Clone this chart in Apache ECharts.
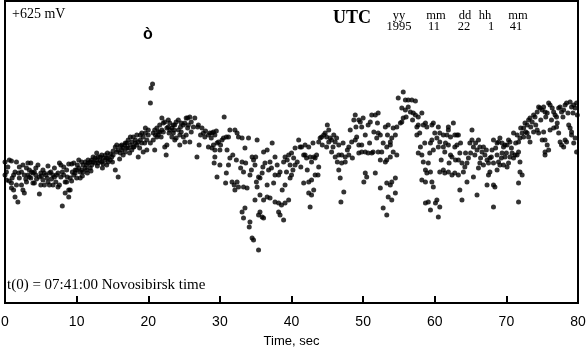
<!DOCTYPE html>
<html><head><meta charset="utf-8">
<script src="https://cdn.jsdelivr.net/npm/echarts@6/dist/echarts.min.js"></script>
<style>html,body{margin:0;padding:0;background:#fff}#c{width:588px;height:350px}</style>
</head><body><div id="c"></div>
<script>
// Time (s) and relative signal level (arbitrary units, 0 = bottom of frame)
const seg1 = [[0,141],[0,128],[0.2,131],[0.2,123],[0.6,122],[0.6,143],[0.9,142],[0.9,120],[0.9,115],[1.2,113],[1.2,128],[1.4,106],[1.4,131],[1.6,141],[1.6,118],[1.8,101],[2.0,125],[2.0,136],[2.3,131],[2.3,118],[2.5,138],[2.5,113],[2.7,110],[2.7,128],[3.0,121],[3.0,135],[3.2,128],[3.2,140],[3.4,126],[3.4,133],[3.6,140],[3.6,125],[3.9,130],[3.9,120],[4.1,120],[4.1,131],[4.3,128],[4.3,135],[4.6,138],[4.8,109],[4.8,126],[5.0,130],[5.0,118],[5.3,133],[5.3,123],[5.5,118],[5.5,130],[5.7,128],[6.0,137],[6.0,121],[6.2,118],[6.2,130],[6.4,131],[6.7,128],[6.7,118],[6.9,135],[6.9,126],[7.1,121],[7.4,130],[7.4,116],[7.6,118],[7.6,140],[7.8,138],[7.8,126],[8.0,97],[8.2,128],[8.2,136],[8.4,110],[8.4,121],[8.6,121],[8.6,133],[8.9,139],[8.9,106],[8.9,113],[9.1,113],[9.1,125],[9.3,122],[9.3,139],[9.6,140],[9.6,128],[9.8,130],[9.8,133],[10.0,133],[10.0,125],[10.3,135],[10.3,143],[10.5,125],[10.5,131],[10.7,141],[10.7,133],[10.9,131],[10.9,138],[11.2,135],[11.2,141],[11.4,138],[11.4,133],[11.6,140],[11.6,143],[11.9,135],[11.9,141],[12.1,143],[12.1,138],[12.3,141],[12.3,146],[12.6,145],[12.6,140],[12.8,150],[12.8,143],[13.0,140],[13.0,146],[13.3,146],[13.3,142],[13.5,141],[13.5,148],[13.7,145],[13.7,139],[14.0,148],[14.0,143],[14.2,138],[14.2,145],[14.4,145],[14.4,141],[14.7,143],[14.7,149],[14.9,146],[15.1,148],[15.1,152],[15.4,133],[15.4,156],[15.6,158],[15.6,151],[15.8,126],[15.8,153],[16.1,150],[16.1,157],[16.3,158],[16.3,153],[16.5,155],[16.5,148],[16.8,151],[16.8,160],[17.0,160],[17.0,155],[17.2,155],[17.2,163],[17.5,158],[17.5,166],[17.7,161],[17.7,153],[17.9,156],[17.9,166],[18.2,163],[18.2,160],[18.4,158],[18.4,168],[18.6,146],[18.6,161],[18.9,168],[18.9,163],[19.1,160],[19.1,170],[19.3,166],[19.3,151],[19.6,170],[19.6,175],[19.8,163],[19.8,153],[20.0,173],[20.0,168],[20.3,200],[20.3,160],[20.4,215],[20.6,219],[20.7,170],[20.7,163],[20.9,153],[20.9,173],[21.2,175],[21.2,166],[21.4,168],[21.4,171],[21.6,178],[21.6,171],[21.9,185],[21.9,173],[22.1,171],[22.1,180],[22.3,181],[22.3,156],[22.5,148],[22.6,158],[22.6,175],[22.8,176],[22.8,183],[23.0,180],[23.0,173],[23.3,175],[23.3,166],[23.5,170],[23.5,178],[23.7,178],[23.7,163],[23.9,165],[23.9,181],[24.2,183],[24.2,173],[24.4,158],[24.4,168],[24.6,171],[24.6,180],[24.9,178],[24.9,166],[25.1,180],[25.1,161],[25.3,168],[25.3,185],[25.5,185],[25.5,175],[25.8,161],[25.8,186],[26.0,181],[26.0,171],
  [0.4,136],[1.0,125],[1.9,130],[2.9,124],[3.7,131],[4.4,124],[5.1,127],[5.9,125],[6.5,124],[7.2,128],[8.0,131],[8.7,126],[9.4,131],[10.1,138],[10.8,127],[11.5,130],[12.0,132],[12.9,137],[13.6,135],[14.3,150],[15.0,141],[16.0,144],[16.7,158],[17.4,150],[18.0,156],[18.8,155],[19.5,160],[21.0,168],[21.8,166],[22.9,170],[23.6,173],[24.5,176],[25.6,178],[26.3,176]];
const seg2 = [[26.5,185],[27.0,178],[27.5,175],[27.7,170],[27.9,166],[28.4,168],[28.6,170],[28.9,170],[29.1,171],[29.3,168],[27.1,158],[28.4,156],[28.9,155],[29.1,158],[29.3,153],[26.8,146],[29.6,160],[30.0,153],[29.8,161],[30.3,163],[30.5,165],[30.9,166],[31.2,166],[30.6,186],[31.4,173],[32.1,173],[32.4,170],[32.6,166],[33.1,165],[34.0,165],[35.2,163],[33.5,155],[29.3,146],[29.2,140],[30.0,138],[31.2,138],[31.4,145],[30.9,130],[29.6,126],[30.8,120],[31.7,121],[32.0,118],[32.4,121],[32.6,116],[32.1,113],[33.3,116],[33.8,115],[33.1,141],[33.3,131],[34.2,128],[34.7,143],[34.5,146],[34.9,138],[35.1,121],[35.4,126],[36.1,151],[36.6,153],[37.3,160],[37.7,146],[36.3,140],[37.0,141],[35.9,130],[35.6,125],[35.2,116],[36.6,118],[37.2,135],[37.7,128],[38.4,131],[38.2,128],[38.9,141],[39.1,146],[39.6,148],[40.0,150],[40.3,145],[40.5,138],[39.8,138],[39.3,131],[40.0,128],[39.1,118],[39.8,125],[40.5,155],[41.0,163],[41.2,156],[41.4,156],[41.7,148],[41.9,148],[42.1,145],[42.4,156],[42.6,146],[42.8,141],[43.1,146],[43.3,145],[43.5,148],[43.8,136],[41.7,120],[42.4,121],[42.8,123],[43.1,113],[43.3,128],[42.8,108],[42.6,96],[42.4,110],[34.9,103],[35.6,108],[36.1,103],[36.6,106],[37.0,105],[37.7,101],[38.2,100],[38.6,98],[39.1,100],[39.6,103],[35.4,88],[35.9,86],[36.1,85],[35.6,91],[38.2,91],[38.4,88],[38.9,83],[33.1,91],[33.5,95],[33.3,85],[34.2,81],[34.1,76],[34.5,65],[34.7,63],[35.4,53],[43.8,161],[44.0,165],[44.2,166],[44.5,168],[44.7,170],[44.9,166],[45.2,173],[45.4,165],[45.6,163],[45.2,161],[45.9,168],[46.1,161],[46.3,165],[46.6,158],[44.9,156],[45.6,151],[46.1,146],[46.6,148],[47.0,148],[47.5,146],[48.0,148],[47.0,140],[47.5,141],[46.6,133],[46.8,125],[47.3,111],[46.9,101],[48.0,156],[48.4,161],[48.9,163],[49.4,158],[49.8,158],[48.2,173],[48.7,183],[48.9,188],[49.4,183],[49.6,181],[49.8,176],[49.1,166],[50.3,168],[50.7,178],[51.0,181],[51.2,188],[51.7,188],[52.1,190],[51.9,165],[52.1,170],[52.4,168],[53.1,176],[53.5,178],[52.6,151],[53.3,156],[53.8,158],[49.4,150],[49.8,151],[50.3,151],[50.7,150],[51.2,150],[51.4,151],[52.1,151],[52.4,143],[53.1,141],[53.3,143],[50.3,130],[50.1,121],[50.5,126],[51.7,130],[52.4,115],[53.3,120],[53.5,106],[52.8,95],[53.3,88],
  [26.9,176],[27.3,168],[28.0,172],[28.8,165],[29.5,172],[30.1,158],[31.0,153],[31.8,148],[32.3,143],[32.9,135],[33.6,140],[34.4,133],[35.0,146],[36.0,136],[36.8,133],[37.5,120],[38.0,138],[38.7,113],[39.4,143],[40.2,133],[40.8,141],[41.3,136],[41.9,158],[42.2,133],[43.0,160],[43.7,128],[44.3,158],[45.0,178],[45.8,156],[46.4,141],[47.2,160],[47.8,153],[48.5,145],[49.0,176],[50.0,185],[50.9,160],[51.5,171],[52.0,180],[52.8,160],[53.4,168]];
const seg3 = [[54.9,205],[55.6,211],[55.9,203],[56.3,203],[56.8,203],[57.3,202],[55.4,195],[55.9,193],[56.3,196],[56.6,191],[57.0,190],[57.3,188],[57.7,186],[58.2,190],[55.6,185],[55.4,181],[55.2,180],[54.7,176],[54.2,175],[54.5,168],[54.0,165],[53.8,161],[54.2,151],[54.7,148],[53.8,146],[54.5,125],[54.0,121],[53.8,118],[54.5,110],[54.0,103],[57.5,176],[57.7,178],[58.4,178],[58.7,180],[58.9,176],[59.6,178],[59.8,180],[60.5,176],[60.7,170],[61.2,168],[61.7,168],[61.9,176],[62.2,166],[62.6,180],[62.8,168],[63.1,168],[63.3,168],[61.9,173],[57.5,168],[57.7,150],[58.2,148],[58.0,156],[58.4,141],[58.7,133],[58.9,130],[59.4,131],[59.1,140],[59.8,153],[59.4,160],[59.6,163],[60.3,165],[60.5,156],[60.7,161],[61.2,156],[61.4,151],[61.9,158],[62.2,148],[62.4,146],[62.8,156],[63.1,158],[63.5,150],[63.3,143],[63.8,140],[64.2,136],[64.0,131],[64.5,140],[64.7,145],[64.9,160],[65.2,163],[65.2,173],[65.4,156],[65.6,148],[65.9,153],[66.1,163],[66.3,156],[66.6,151],[66.8,156],[67.0,148],[67.3,143],[67.5,140],[67.7,145],[68.0,153],[68.2,163],[68.7,160],[68.9,161],[69.1,165],[69.4,160],[69.6,156],[69.8,158],[70.1,158],[70.3,163],[70.5,161],[71.0,170],[71.5,168],[71.7,161],[71.9,165],[72.2,170],[72.4,175],[72.6,180],[72.9,178],[73.1,183],[73.3,185],[73.6,181],[73.8,188],[74.0,186],[74.3,191],[74.5,196],[74.7,195],[75.0,193],[75.2,196],[75.4,191],[75.7,190],[75.9,200],[76.1,198],[76.4,195],[76.6,191],[76.8,188],[77.0,186],[77.3,195],[77.5,196],[77.7,191],[78.0,193],[78.2,198],[78.4,200],[78.9,201],[79.1,196],[79.4,198],[79.6,195],[79.8,200],[58.2,123],[58.7,121],[59.6,121],[59.8,116],[60.7,131],[61.2,133],[61.4,130],[61.9,131],[62.4,128],[62.8,130],[63.3,128],[64.5,121],[65.4,126],[66.1,135],[66.3,140],[66.8,138],[67.5,128],[67.7,131],[68.7,133],[69.1,138],[69.6,138],[70.1,136],[70.3,140],[70.5,146],[71.0,145],[71.5,148],[71.7,151],[71.9,141],[72.2,128],[71.9,131],[71.7,120],[68.2,118],[68.4,116],[67.3,118],[58.7,100],[59.1,101],[59.4,93],[60.1,100],[60.3,103],[60.7,96],[60.5,86],[63.5,113],[63.8,103],[65.9,108],[68.2,96],[71.7,101],[72.9,170],[73.1,166],[72.4,166],[73.3,161],[73.8,171],[74.3,173],[74.5,170],[75.0,163],[75.2,171],[75.4,163],[75.7,158],[75.9,153],[76.1,173],[76.6,175],[77.0,176],[77.3,170],[77.5,161],[77.7,158],[78.0,156],[78.2,163],[78.4,161],[78.7,178],[78.9,175],[79.1,171],[79.4,160],[79.6,165],[79.8,151],[79.1,168],[75.4,151],[75.4,148],[69.8,146],[70.8,150],[71.2,148],[69.4,150],[68.7,148],[68.9,141],[68.2,140],
  [56.0,186],[56.9,183],[57.9,170],[58.6,160],[59.3,150],[60.0,170],[60.9,143],[61.5,160],[62.0,140],[62.9,143],[63.6,160],[64.3,150],[65.0,150],[65.7,160],[66.4,145],[67.2,153],[67.9,146],[68.5,155],[69.3,145],[70.0,150],[70.7,155],[71.3,160],[72.0,175],[72.7,171],[73.4,176],[74.1,178],[74.8,183],[75.5,186],[76.3,183],[77.1,180],[77.9,186],[78.6,190],[79.3,190],[79.9,188]];
const xTicks = [0,10,20,30,40,50,60,70,80];
const utcHeads = ['yy','mm','dd','hh','mm'];
const utcVals = ['1995','11','22','1','41'];

const chart = echarts.init(document.getElementById('c'), null, {renderer:'canvas'});
const serif = '"Liberation Serif","Times New Roman",serif';
const sans = '"Liberation Sans",Arial,sans-serif';
const headX = [399,436,465,485,518];
const valX  = [399,434,464,491,516];
const graphics = [
  {type:'text', left:12, top:7, style:{text:'+625 mV', font:'14px '+serif, fill:'#000'}},
  {type:'text', left:143, top:27, style:{text:'ò', font:'bold 16px '+sans, fill:'#000'}},
  {type:'text', left:333, top:9, style:{text:'UTC', font:'bold 18px '+serif, fill:'#000'}},
  {type:'text', left:7, top:278, style:{text:'t(0) = 07:41:00 Novosibirsk time', font:'15px '+serif, fill:'#000'}}
];
utcHeads.forEach((h,i)=>graphics.push({type:'text', x:headX[i], y:9, style:{text:h, font:'12.5px '+serif, fill:'#000', align:'center'}}));
utcVals.forEach((h,i)=>graphics.push({type:'text', x:valX[i], y:20, style:{text:h, font:'12.5px '+serif, fill:'#000', align:'center'}}));

const scatterStyle = {type:'scatter', symbol:'circle', symbolSize:5, itemStyle:{color:'#000'}};
chart.setOption({
  animation:false,
  backgroundColor:'#fff',
  grid:{left:5, right:10, top:1, bottom:47, show:true, borderColor:'#000', borderWidth:2, backgroundColor:'transparent', containLabel:false, outerBoundsMode:'none'},
  xAxis:{type:'value', min:xTicks[0], max:xTicks[xTicks.length-1], interval:10,
    name:'Time, sec', nameLocation:'middle', nameGap:32,
    nameTextStyle:{fontFamily:sans, fontSize:13, color:'#000'},
    axisLine:{lineStyle:{color:'#000', width:2}},
    axisTick:{inside:true, length:7, lineStyle:{color:'#000', width:2}},
    axisLabel:{fontFamily:sans, fontSize:14, color:'#000', margin:12},
    splitLine:{show:false}},
  yAxis:{type:'value', min:0, max:302, show:false, splitLine:{show:false}},
  series:[
    Object.assign({data:seg1}, scatterStyle),
    Object.assign({data:seg2}, scatterStyle),
    Object.assign({data:seg3}, scatterStyle)
  ],
  graphic:graphics
});
</script></body></html>
